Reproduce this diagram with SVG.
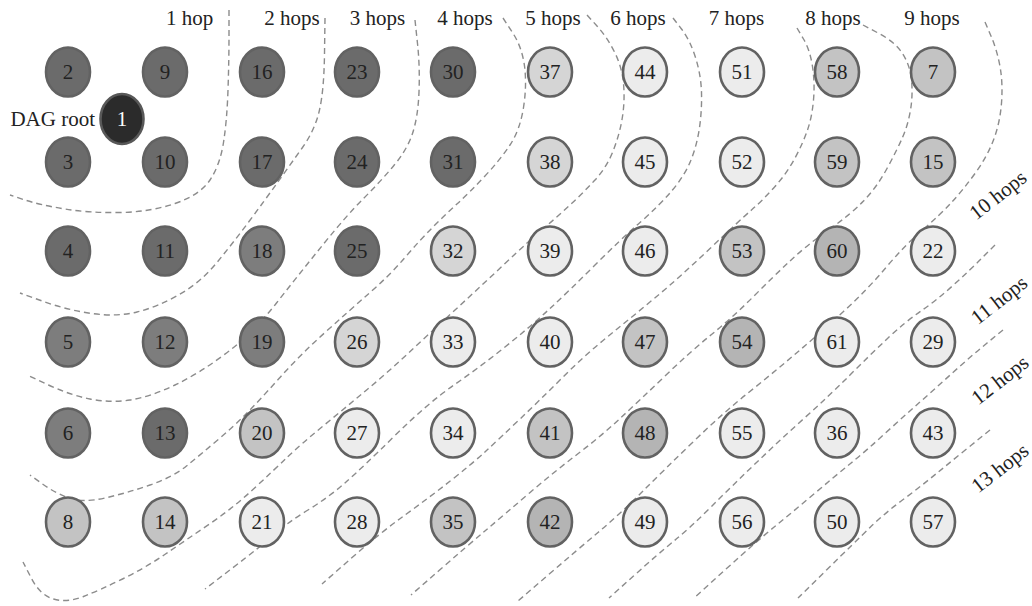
<svg xmlns="http://www.w3.org/2000/svg" width="1032" height="606" viewBox="0 0 1032 606">
<style>
.b{fill:none;stroke:#8c8c8c;stroke-width:1.4;stroke-dasharray:6 4}
.n ellipse{stroke:#626262;stroke-width:2.6}
.n text{font-family:"Liberation Serif","DejaVu Serif",serif;font-size:21px;fill:#222;text-anchor:middle}
.dk ellipse{fill:#6b6b6b}
.md ellipse{fill:#7d7d7d}
.l2 ellipse{fill:#b4b4b4}
.l1 ellipse{fill:#c3c3c3}
.l0 ellipse{fill:#d5d5d5}
.vl ellipse{fill:#ececec}
.lbl{font-family:"Liberation Serif","DejaVu Serif",serif;font-size:21px;fill:#222;text-anchor:middle}
</style>
<rect width="1032" height="606" fill="#fff"/>
<g id="connectors">
<path class="b" d="M229,10 L229,35 Q229,60 228,90 Q227,120 223.5,142.5 Q220,165 210,180 Q200,195 175,203.5 Q150,212 120,212.5 Q90,213 65,209 Q40,205 25,200 L10,195"/>
<path class="b" d="M325,18 L324.5,54 Q324,90 319.5,110 Q315,130 302.5,147.5 Q290,165 277.5,182.5 Q265,200 249,221.5 Q233,243 216.5,263 Q200,283 178.5,295 Q157,307 137,312 Q117,317 92,313.5 Q67,310 43.5,301.5 L20,293"/>
<path class="b" d="M415,20 L417.5,43.5 Q420,67 419,92 Q418,117 412.5,133.5 Q407,150 393.5,166 Q380,182 363.5,198.5 Q347,215 323.5,244 Q300,273 276.5,303 Q253,333 226.5,353 Q200,373 175,385 Q150,397 130,400 Q110,403 90,399 Q70,395 48.5,385 L27,375"/>
<path class="b" d="M503,18 L512.5,32.5 Q522,47 524.5,66 Q527,85 523.5,107.5 Q520,130 510,145 Q500,160 485,176 Q470,192 457.5,203.5 Q445,215 432.5,227.5 Q420,240 405,257.5 Q390,275 370,292.5 Q350,310 325,332.5 Q300,355 279,378.5 Q258,402 245.5,414.5 Q233,427 216.5,441 Q200,455 186.5,466 Q173,477 150,485 Q127,493 105,498 Q83,503 69,498 Q55,493 42.5,484 L30,475"/>
<path class="b" d="M587,15 L597,26 Q607,37 614.5,52 Q622,67 623.5,83.5 Q625,100 622.5,116.5 Q620,133 613.5,150 Q607,167 595,180 Q583,193 570,205 Q557,217 543.5,228.5 Q530,240 505,263.5 Q480,287 455,310 Q430,333 408.5,353 Q387,373 366,390.5 Q345,408 322.5,426.5 Q300,445 287,457.5 Q274,470 253.5,489 Q233,508 209.5,524 Q186,540 165.5,554 Q145,568 122.5,579 Q100,590 83.5,596.5 Q67,603 53.5,599 Q40,595 31.5,578.5 L23,562"/>
<path class="b" d="M673,18 L681.5,29 Q690,40 695.5,57.5 Q701,75 701.5,92.5 Q702,110 699.5,127.5 Q697,145 691,160 Q685,175 672.5,190 Q660,205 640,222.5 Q620,240 595,265 Q570,290 550,308.5 Q530,327 505,347 Q480,367 454,385 Q428,403 395,435.5 Q362,468 345.5,482.5 Q329,497 308,510 Q287,523 273.5,535 Q260,547 232.5,568 L205,589"/>
<path class="b" d="M797,28 L803.5,39 Q810,50 812.5,66.5 Q815,83 813.5,100 Q812,117 807.5,130 Q803,143 795,158 Q787,173 775,186.5 Q763,200 751.5,210 Q740,220 710,248.5 Q680,277 656,297 Q632,317 608.5,336 Q585,355 562.5,377.5 Q540,400 520,419 Q500,438 486.5,450.5 Q473,463 451.5,480 Q430,497 405,515 Q380,533 351,558.5 L322,584"/>
<path class="b" d="M863,25 L879,33.5 Q895,42 902.5,53.5 Q910,65 911.5,80 Q913,95 910.5,110 Q908,125 902.5,137.5 Q897,150 887,168.5 Q877,187 863.5,201 Q850,215 828.5,230 Q807,245 790,261 Q773,277 753,297 Q733,317 711.5,334.5 Q690,352 665,376 Q640,400 620,418.5 Q600,437 577,454.5 Q554,472 529.5,493 Q505,514 485.5,530.5 Q466,547 438.5,571 L411,595"/>
<path class="b" d="M985,22 L991,36 Q997,50 1000,66.5 Q1003,83 1001.5,103 Q1000,123 993.5,140 Q987,157 975,173.5 Q963,190 951.5,202.5 Q940,215 922.5,230 Q905,245 886,267.5 Q867,290 843.5,311.5 Q820,333 796.5,353 Q773,373 748,393 Q723,413 693.5,441.5 Q664,470 642,492 Q620,514 598,532.5 Q576,551 547,576 L518,601"/>
<path class="b" d="M995,245 L982.5,257.5 Q970,270 953.5,285 Q937,300 921,311 Q905,322 887.5,338.5 Q870,355 850,375 Q830,395 805,417.5 Q780,440 756.5,462.5 Q733,485 712,506 Q691,527 674.5,540.5 Q658,554 633.5,576 L609,598"/>
<path class="b" d="M1003,330 L986.5,343.5 Q970,357 953.5,372 Q937,387 920,402 Q903,417 885,433.5 Q867,450 850.5,463.5 Q834,477 814.5,493.5 Q795,510 776,525.5 Q757,541 725.5,569.5 L694,598"/>
<path class="b" d="M990,430 L971.5,445 Q953,460 936.5,473.5 Q920,487 902.5,500 Q885,513 870,527.5 Q855,542 826.5,570 L798,598"/>
</g>
<g id="labels">
<text class="lbl" x="189.5" y="25">1 hop</text>
<text class="lbl" x="292" y="25">2 hops</text>
<text class="lbl" x="377.5" y="25">3 hops</text>
<text class="lbl" x="465" y="25">4 hops</text>
<text class="lbl" x="553" y="25">5 hops</text>
<text class="lbl" x="638" y="25">6 hops</text>
<text class="lbl" x="736.5" y="25">7 hops</text>
<text class="lbl" x="833" y="25">8 hops</text>
<text class="lbl" x="932" y="25">9 hops</text>
<text class="lbl" transform="translate(998,195) rotate(-38)" y="7">10 hops</text>
<text class="lbl" transform="translate(999,300) rotate(-38)" y="7">11 hops</text>
<text class="lbl" transform="translate(1000,380) rotate(-38)" y="7">12 hops</text>
<text class="lbl" transform="translate(1000,468) rotate(-38)" y="7">13 hops</text>
<text class="lbl" x="95" y="126" style="text-anchor:end">DAG root</text>
</g>
<g id="n1" class="n"><ellipse cx="122" cy="119" rx="21.5" ry="25" style="fill:#2b2b2b;stroke:#585858"/><text x="122" y="126" style="fill:#fff">1</text></g>
<g id="n2" class="n dk"><ellipse cx="68" cy="72" rx="22" ry="24.5"/><text x="68" y="79">2</text></g>
<g id="n9" class="n dk"><ellipse cx="165" cy="72" rx="22" ry="24.5"/><text x="165" y="79">9</text></g>
<g id="n16" class="n dk"><ellipse cx="262" cy="72" rx="22" ry="24.5"/><text x="262" y="79">16</text></g>
<g id="n23" class="n dk"><ellipse cx="357" cy="72" rx="22" ry="24.5"/><text x="357" y="79">23</text></g>
<g id="n30" class="n dk"><ellipse cx="453" cy="72" rx="22" ry="24.5"/><text x="453" y="79">30</text></g>
<g id="n37" class="n l0"><ellipse cx="550" cy="72" rx="22" ry="24.5"/><text x="550" y="79">37</text></g>
<g id="n44" class="n vl"><ellipse cx="645" cy="72" rx="22" ry="24.5"/><text x="645" y="79">44</text></g>
<g id="n51" class="n vl"><ellipse cx="742" cy="72" rx="22" ry="24.5"/><text x="742" y="79">51</text></g>
<g id="n58" class="n l1"><ellipse cx="837" cy="72" rx="22" ry="24.5"/><text x="837" y="79">58</text></g>
<g id="n7" class="n l1"><ellipse cx="933" cy="72" rx="22" ry="24.5"/><text x="933" y="79">7</text></g>
<g id="n3" class="n dk"><ellipse cx="68" cy="162" rx="22" ry="24.5"/><text x="68" y="169">3</text></g>
<g id="n10" class="n dk"><ellipse cx="165" cy="162" rx="22" ry="24.5"/><text x="165" y="169">10</text></g>
<g id="n17" class="n dk"><ellipse cx="262" cy="162" rx="22" ry="24.5"/><text x="262" y="169">17</text></g>
<g id="n24" class="n dk"><ellipse cx="357" cy="162" rx="22" ry="24.5"/><text x="357" y="169">24</text></g>
<g id="n31" class="n dk"><ellipse cx="453" cy="162" rx="22" ry="24.5"/><text x="453" y="169">31</text></g>
<g id="n38" class="n l0"><ellipse cx="550" cy="162" rx="22" ry="24.5"/><text x="550" y="169">38</text></g>
<g id="n45" class="n vl"><ellipse cx="645" cy="162" rx="22" ry="24.5"/><text x="645" y="169">45</text></g>
<g id="n52" class="n vl"><ellipse cx="742" cy="162" rx="22" ry="24.5"/><text x="742" y="169">52</text></g>
<g id="n59" class="n l1"><ellipse cx="837" cy="162" rx="22" ry="24.5"/><text x="837" y="169">59</text></g>
<g id="n15" class="n l1"><ellipse cx="933" cy="162" rx="22" ry="24.5"/><text x="933" y="169">15</text></g>
<g id="n4" class="n dk"><ellipse cx="68" cy="251" rx="22" ry="24.5"/><text x="68" y="258">4</text></g>
<g id="n11" class="n dk"><ellipse cx="165" cy="251" rx="22" ry="24.5"/><text x="165" y="258">11</text></g>
<g id="n18" class="n md"><ellipse cx="262" cy="251" rx="22" ry="24.5"/><text x="262" y="258">18</text></g>
<g id="n25" class="n dk"><ellipse cx="357" cy="251" rx="22" ry="24.5"/><text x="357" y="258">25</text></g>
<g id="n32" class="n l0"><ellipse cx="453" cy="251" rx="22" ry="24.5"/><text x="453" y="258">32</text></g>
<g id="n39" class="n vl"><ellipse cx="550" cy="251" rx="22" ry="24.5"/><text x="550" y="258">39</text></g>
<g id="n46" class="n vl"><ellipse cx="645" cy="251" rx="22" ry="24.5"/><text x="645" y="258">46</text></g>
<g id="n53" class="n l1"><ellipse cx="742" cy="251" rx="22" ry="24.5"/><text x="742" y="258">53</text></g>
<g id="n60" class="n l2"><ellipse cx="837" cy="251" rx="22" ry="24.5"/><text x="837" y="258">60</text></g>
<g id="n22" class="n vl"><ellipse cx="933" cy="251" rx="22" ry="24.5"/><text x="933" y="258">22</text></g>
<g id="n5" class="n md"><ellipse cx="68" cy="342" rx="22" ry="24.5"/><text x="68" y="349">5</text></g>
<g id="n12" class="n md"><ellipse cx="165" cy="342" rx="22" ry="24.5"/><text x="165" y="349">12</text></g>
<g id="n19" class="n md"><ellipse cx="262" cy="342" rx="22" ry="24.5"/><text x="262" y="349">19</text></g>
<g id="n26" class="n l0"><ellipse cx="357" cy="342" rx="22" ry="24.5"/><text x="357" y="349">26</text></g>
<g id="n33" class="n vl"><ellipse cx="453" cy="342" rx="22" ry="24.5"/><text x="453" y="349">33</text></g>
<g id="n40" class="n vl"><ellipse cx="550" cy="342" rx="22" ry="24.5"/><text x="550" y="349">40</text></g>
<g id="n47" class="n l1"><ellipse cx="645" cy="342" rx="22" ry="24.5"/><text x="645" y="349">47</text></g>
<g id="n54" class="n l2"><ellipse cx="742" cy="342" rx="22" ry="24.5"/><text x="742" y="349">54</text></g>
<g id="n61" class="n vl"><ellipse cx="837" cy="342" rx="22" ry="24.5"/><text x="837" y="349">61</text></g>
<g id="n29" class="n vl"><ellipse cx="933" cy="342" rx="22" ry="24.5"/><text x="933" y="349">29</text></g>
<g id="n6" class="n md"><ellipse cx="68" cy="433" rx="22" ry="24.5"/><text x="68" y="440">6</text></g>
<g id="n13" class="n dk"><ellipse cx="165" cy="433" rx="22" ry="24.5"/><text x="165" y="440">13</text></g>
<g id="n20" class="n l1"><ellipse cx="262" cy="433" rx="22" ry="24.5"/><text x="262" y="440">20</text></g>
<g id="n27" class="n vl"><ellipse cx="357" cy="433" rx="22" ry="24.5"/><text x="357" y="440">27</text></g>
<g id="n34" class="n vl"><ellipse cx="453" cy="433" rx="22" ry="24.5"/><text x="453" y="440">34</text></g>
<g id="n41" class="n l1"><ellipse cx="550" cy="433" rx="22" ry="24.5"/><text x="550" y="440">41</text></g>
<g id="n48" class="n l2"><ellipse cx="645" cy="433" rx="22" ry="24.5"/><text x="645" y="440">48</text></g>
<g id="n55" class="n vl"><ellipse cx="742" cy="433" rx="22" ry="24.5"/><text x="742" y="440">55</text></g>
<g id="n36" class="n vl"><ellipse cx="837" cy="433" rx="22" ry="24.5"/><text x="837" y="440">36</text></g>
<g id="n43" class="n vl"><ellipse cx="933" cy="433" rx="22" ry="24.5"/><text x="933" y="440">43</text></g>
<g id="n8" class="n l1"><ellipse cx="68" cy="522" rx="22" ry="24.5"/><text x="68" y="529">8</text></g>
<g id="n14" class="n l1"><ellipse cx="165" cy="522" rx="22" ry="24.5"/><text x="165" y="529">14</text></g>
<g id="n21" class="n vl"><ellipse cx="262" cy="522" rx="22" ry="24.5"/><text x="262" y="529">21</text></g>
<g id="n28" class="n vl"><ellipse cx="357" cy="522" rx="22" ry="24.5"/><text x="357" y="529">28</text></g>
<g id="n35" class="n l1"><ellipse cx="453" cy="522" rx="22" ry="24.5"/><text x="453" y="529">35</text></g>
<g id="n42" class="n l2"><ellipse cx="550" cy="522" rx="22" ry="24.5"/><text x="550" y="529">42</text></g>
<g id="n49" class="n vl"><ellipse cx="645" cy="522" rx="22" ry="24.5"/><text x="645" y="529">49</text></g>
<g id="n56" class="n vl"><ellipse cx="742" cy="522" rx="22" ry="24.5"/><text x="742" y="529">56</text></g>
<g id="n50" class="n vl"><ellipse cx="837" cy="522" rx="22" ry="24.5"/><text x="837" y="529">50</text></g>
<g id="n57" class="n vl"><ellipse cx="933" cy="522" rx="22" ry="24.5"/><text x="933" y="529">57</text></g>
</svg>
